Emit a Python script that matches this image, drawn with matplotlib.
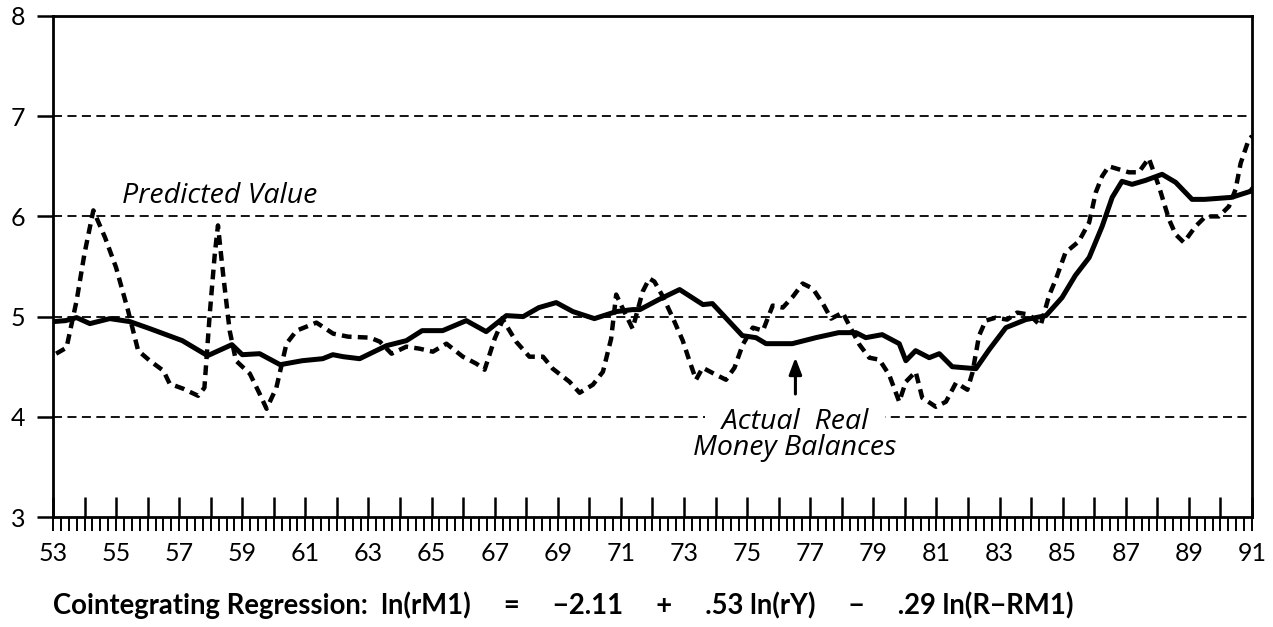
import matplotlib
matplotlib.use("Agg")
import matplotlib.pyplot as plt
from matplotlib.ticker import MultipleLocator, FixedLocator

plt.rcParams['font.family'] = ['Lato', 'DejaVu Sans']

# actual real money balances (solid line)
actual_year = [53.0, 53.4, 53.75, 54.17, 54.8, 55.44, 56.07, 57.1, 57.9, 58.67,
               59.0, 59.55, 60.2, 60.9, 61.55, 61.87, 62.2, 62.72, 63.57, 64.2,
               64.7, 65.35, 66.1, 66.73, 67.05, 67.37, 67.9, 68.4, 68.95, 69.48,
               70.16, 70.85, 71.37, 71.6, 72.2, 72.86, 73.6, 73.9, 74.85, 75.28,
               75.6, 76.43, 77.18, 77.9, 78.45, 78.76, 79.28, 79.82, 80.03, 80.34,
               80.77, 81.09, 81.5, 82.25, 82.67, 83.2, 83.83, 84.47, 84.98, 85.4,
               85.84, 86.25, 86.57, 86.88, 87.2, 87.63, 88.15, 88.58, 89.1, 89.5,
               90.35, 90.95, 91.0]
actual_value = [4.95, 4.96, 4.99, 4.93, 4.98, 4.95, 4.88, 4.76, 4.61, 4.72,
                4.62, 4.63, 4.52, 4.56, 4.58, 4.62, 4.60, 4.58, 4.71, 4.76,
                4.86, 4.86, 4.96, 4.85, 4.93, 5.01, 5.00, 5.09, 5.14, 5.05,
                4.98, 5.05, 5.07, 5.07, 5.17, 5.27, 5.12, 5.13, 4.81, 4.79,
                4.73, 4.73, 4.79, 4.84, 4.84, 4.79, 4.82, 4.73, 4.56, 4.66,
                4.59, 4.63, 4.50, 4.48, 4.67, 4.89, 4.97, 5.01, 5.19, 5.41,
                5.59, 5.90, 6.19, 6.35, 6.32, 6.36, 6.42, 6.34, 6.17, 6.17,
                6.19, 6.25, 6.27]

# predicted value (dashed line)
pred_year = [53.1, 53.43, 53.75, 54.0, 54.28, 54.65, 55.0, 55.38, 55.7, 56.07,
             56.5, 56.7, 57.13, 57.6, 57.8, 57.97, 58.13, 58.23, 58.39, 58.6,
             58.8, 59.24, 59.55, 59.77, 60.08, 60.4, 60.72, 61.35, 61.88, 62.35,
             63.05, 63.36, 63.73, 64.2, 64.62, 65.04, 65.47, 65.99, 66.42, 66.68,
             67.0, 67.26, 67.68, 68.1, 68.53, 68.84, 69.37, 69.69, 70.11, 70.43,
             70.69, 70.85, 71.06, 71.37, 71.69, 71.9, 72.06, 72.33, 72.64, 72.96,
             73.17, 73.38, 73.59, 74.01, 74.33, 74.6, 74.86, 75.18, 75.5, 75.81,
             76.13, 76.45, 76.76, 77.08, 77.4, 77.66, 78.03, 78.24, 78.56, 78.87,
             79.19, 79.5, 79.82, 80.03, 80.34, 80.55, 80.98, 81.3, 81.62, 81.98,
             82.14, 82.35, 82.56, 82.88, 83.24, 83.56, 83.94, 84.3, 84.57, 84.78,
             85.09, 85.51, 85.84, 86.05, 86.25, 86.46, 86.78, 87.1, 87.41, 87.73,
             88.05, 88.37, 88.58, 88.84, 89.21, 89.53, 89.95, 90.27, 90.48, 90.64,
             90.9, 91.0]
pred_value = [4.63, 4.69, 5.16, 5.63, 6.06, 5.79, 5.49, 5.06, 4.66, 4.56,
              4.46, 4.33, 4.28, 4.21, 4.29, 5.03, 5.63, 5.91, 5.43, 4.86,
              4.56, 4.43, 4.23, 4.08, 4.29, 4.73, 4.86, 4.94, 4.83, 4.80,
              4.79, 4.75, 4.63, 4.70, 4.68, 4.65, 4.73, 4.60, 4.53, 4.47,
              4.78, 4.97, 4.75, 4.60, 4.60, 4.48, 4.35, 4.24, 4.32, 4.45,
              4.78, 5.22, 5.08, 4.88, 5.25, 5.38, 5.35, 5.20, 4.99, 4.76,
              4.56, 4.37, 4.49, 4.42, 4.37, 4.49, 4.72, 4.89, 4.86, 5.11,
              5.09, 5.20, 5.33, 5.28, 5.13, 4.98, 5.04, 4.91, 4.72, 4.59,
              4.57, 4.42, 4.15, 4.35, 4.45, 4.19, 4.10, 4.15, 4.34, 4.27,
              4.44, 4.81, 4.96, 4.99, 4.97, 5.04, 5.02, 4.91, 5.21, 5.37,
              5.64, 5.75, 5.94, 6.24, 6.40, 6.50, 6.47, 6.44, 6.44, 6.58,
              6.30, 5.97, 5.82, 5.74, 5.90, 6.00, 6.00, 6.10, 6.27, 6.53,
              6.77, 6.80]

years = list(range(53, 92))
year_labels = [str(y) if y % 2 == 1 else '' for y in years]
y_ticks = [3, 4, 5, 6, 7, 8]

fig = plt.figure(figsize=(12.73, 6.27), dpi=100)
ax = fig.add_axes([0.0416, 0.1754, 0.9419, 0.7991])

# dashed horizontal guide lines
for v in [4, 5, 6, 7]:
    ax.axhline(v, color='black', lw=1.3, linestyle=(0, (5.0, 3.0)), zorder=1)

ax.plot(actual_year, actual_value, color='black', lw=3.6, solid_joinstyle='round', zorder=3)
ax.plot(pred_year, pred_value, color='black', lw=3.2, linestyle=(0, (2.2, 1.4)), zorder=3)

ax.set_xlim(53, 91)
ax.set_ylim(3, 8)

for s in ax.spines.values():
    s.set_linewidth(2.0)

ax.xaxis.set_major_locator(FixedLocator(years))
ax.set_xticklabels(year_labels)
ax.xaxis.set_minor_locator(MultipleLocator(0.25))
ax.xaxis.remove_overlapping_locs = False
ax.tick_params(axis='x', which='major', direction='in', length=14.5, width=1.8,
               pad=18, labelsize=18)
ax.tick_params(axis='x', which='minor', direction='out', length=10, width=1.4)

ax.set_yticks(y_ticks)
ax.tick_params(axis='y', which='major', direction='out', length=11.5, width=1.8,
               pad=8.5, labelsize=18)

note_font = ['Open Sans', 'DejaVu Sans']
ax.text(55.2, 6.13, 'Predicted Value', fontsize=20.5, style='italic', family=note_font,
        ha='left', va='baseline')

ax.annotate('', xy=(76.53, 4.62), xytext=(76.53, 4.2),
            arrowprops=dict(arrowstyle='-|>,head_length=1.0,head_width=0.38', color='black', lw=2.2))
ax.text(73.73, 3.88, '  Actual  Real  ', fontsize=20.5, style='italic', family=note_font,
        ha='left', va='baseline', zorder=4,
        bbox=dict(facecolor='white', edgecolor='none', pad=1.5))
ax.text(73.3, 3.62, 'Money Balances', fontsize=20.5, style='italic', family=note_font,
        ha='left', va='baseline', zorder=4)

fig.text(0.0416, 0.021,
         'Cointegrating Regression:  ln(rM1)     =     −2.11     +     .53 ln(rY)     −     .29 ln(R−RM1)',
         fontsize=19.8, fontweight='bold', ha='left', va='baseline')

fig.savefig('out.png', dpi=100)
